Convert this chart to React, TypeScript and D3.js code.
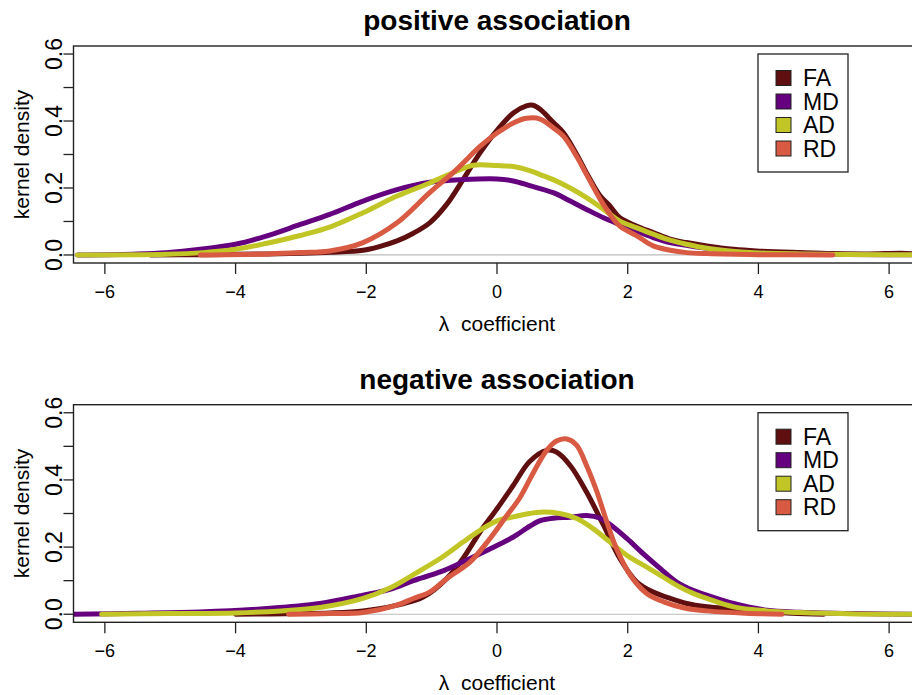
import React from "react";
import * as d3 from "d3";

// kernel density curves: [lambda, density]
const posFA = [[-5.3,0],[-4.5,0.001],[-4,0.002],[-3.5,0.003],[-3,0.005],[-2.55,0.008],[-2.05,0.014],[-1.8,0.025],[-1.53,0.042],[-1.28,0.065],[-1.03,0.096],[-0.77,0.151],[-0.52,0.225],[-0.26,0.305],[0,0.372],[0.25,0.424],[0.45,0.445],[0.55,0.447],[0.66,0.435],[0.86,0.396],[1.02,0.364],[1.22,0.3],[1.37,0.245],[1.58,0.176],[1.73,0.146],[1.88,0.111],[2.14,0.086],[2.39,0.067],[2.65,0.047],[2.9,0.037],[3.21,0.027],[3.62,0.017],[3.97,0.012],[4.64,0.007],[5.15,0.004],[5.7,0.003],[6.19,0.005],[6.5,0.002]];
const posMD = [[-6.42,0],[-5.5,0.003],[-5.06,0.007],[-4.54,0.017],[-4,0.032],[-3.52,0.057],[-3.01,0.091],[-2.56,0.121],[-2.05,0.161],[-1.53,0.195],[-1.03,0.217],[-0.52,0.225],[0,0.227],[0.25,0.221],[0.5,0.207],[0.86,0.186],[1.12,0.161],[1.37,0.136],[1.63,0.111],[1.88,0.091],[2.14,0.071],[2.39,0.052],[2.65,0.037],[2.9,0.029],[3.21,0.02],[3.6,0.011],[4,0.006],[5,0.002],[6,0.001],[6.5,0]];
const posAD = [[-6.42,0],[-5.06,0.002],[-4.5,0.007],[-4,0.017],[-3.52,0.035],[-3.01,0.058],[-2.56,0.083],[-2.05,0.126],[-1.53,0.176],[-1.03,0.215],[-0.62,0.25],[-0.36,0.268],[0,0.267],[0.25,0.264],[0.5,0.252],[0.66,0.24],[0.86,0.225],[1.12,0.2],[1.37,0.171],[1.63,0.136],[1.88,0.101],[2.14,0.081],[2.39,0.062],[2.65,0.044],[2.9,0.032],[3.21,0.02],[3.6,0.011],[4,0.006],[5,0.002],[6,0.001],[6.5,0]];
const posRD = [[-4.54,0],[-3.5,0.003],[-3,0.007],[-2.56,0.012],[-2.05,0.037],[-1.53,0.096],[-1.03,0.186],[-0.62,0.255],[-0.26,0.324],[0,0.364],[0.25,0.394],[0.45,0.408],[0.66,0.406],[0.86,0.38],[1.02,0.354],[1.22,0.294],[1.37,0.24],[1.58,0.166],[1.73,0.121],[1.88,0.086],[2.14,0.057],[2.39,0.027],[2.65,0.014],[2.9,0.007],[3.21,0.004],[4,0.001],[5.14,0]];

const negFA = [[-4,0],[-3,0.002],[-2.56,0.004],[-2.05,0.01],[-1.53,0.027],[-1.13,0.051],[-0.77,0.106],[-0.52,0.166],[-0.26,0.245],[0,0.314],[0.25,0.384],[0.5,0.455],[0.76,0.488],[0.91,0.483],[1.12,0.443],[1.37,0.364],[1.63,0.265],[1.88,0.166],[2.14,0.096],[2.39,0.066],[2.65,0.047],[2.9,0.032],[3.21,0.022],[3.62,0.015],[4,0.008],[4.5,0.003],[5,0]];
const negMD = [[-6.49,0],[-5.5,0.003],[-4.54,0.007],[-3.52,0.017],[-2.71,0.032],[-2.05,0.057],[-1.64,0.074],[-1.28,0.1],[-0.87,0.126],[-0.52,0.156],[-0.26,0.18],[0,0.205],[0.25,0.23],[0.5,0.262],[0.65,0.278],[0.86,0.286],[1.12,0.289],[1.37,0.294],[1.58,0.286],[1.78,0.26],[1.99,0.225],[2.24,0.18],[2.5,0.136],[2.75,0.096],[3.0,0.071],[3.21,0.057],[3.62,0.032],[4.13,0.012],[4.64,0.006],[5.5,0.002],[6.5,0]];
const negAD = [[-6.05,0],[-5,0.002],[-4,0.004],[-3.3,0.01],[-2.71,0.02],[-2.05,0.047],[-1.64,0.078],[-1.28,0.118],[-0.87,0.166],[-0.52,0.215],[-0.26,0.25],[0,0.278],[0.25,0.29],[0.5,0.3],[0.66,0.304],[0.96,0.3],[1.22,0.285],[1.47,0.255],[1.73,0.215],[1.99,0.175],[2.24,0.146],[2.5,0.116],[2.75,0.086],[3.0,0.062],[3.21,0.047],[3.62,0.022],[4.13,0.01],[4.64,0.005],[5.5,0.001],[6.5,0]];
const negRD = [[-3.19,0],[-2.56,0.002],[-2.05,0.005],[-1.53,0.027],[-1.28,0.047],[-1.03,0.066],[-0.77,0.106],[-0.41,0.156],[-0.11,0.225],[0.15,0.294],[0.35,0.347],[0.56,0.423],[0.76,0.488],[0.91,0.516],[1.07,0.522],[1.22,0.503],[1.37,0.443],[1.53,0.364],[1.68,0.275],[1.83,0.195],[2.04,0.116],[2.29,0.062],[2.55,0.037],[2.9,0.017],[3.21,0.01],[3.8,0.003],[4.36,0]];

const measures = ["FA", "MD", "AD", "RD"];
const colors = ["#5f0f10", "#65007e", "#c2c526", "#d85a42"];
const xTicks = [-6, -4, -2, 0, 2, 4, 6];
const yTicks = [0, 0.1, 0.2, 0.3, 0.4, 0.5, 0.6];
const yLabelTicks = [0, 0.2, 0.4, 0.6];

const font = "'Liberation Sans', Arial, Helvetica, sans-serif";

function Panel({ title, series, top, bottom, id }) {
  const x = d3.scaleLinear().domain([-6.48, 6.48]).range([73.5, 920.5]);
  const y = d3.scaleLinear().domain([-0.024, 0.624]).range([bottom, top]);
  const line = d3.line().x(d => x(d[0])).y(d => y(d[1])).curve(d3.curveCatmullRom);
  const fmt = d3.format(".1f");
  const midY = (top + bottom) / 2;
  const lgTop = top + 8;

  return (
    <g>
      <text x={497} y={top - 16} textAnchor="middle" fontSize={28} fontWeight="bold">{title}</text>
      <defs>
        <clipPath id={id}>
          <rect x={x.range()[0]} y={top} width={x.range()[1] - x.range()[0]} height={bottom - top} />
        </clipPath>
      </defs>
      <line x1={x.range()[0]} x2={x.range()[1]} y1={y(0)} y2={y(0)} stroke="#bbb" strokeWidth={1.2} />
      <g clipPath={`url(#${id})`}>
        {series.map((s, i) => (
          <path key={i} d={line(s)} fill="none" stroke={colors[i]} strokeWidth={5} strokeLinejoin="round" strokeLinecap="round" />
        ))}
      </g>
      <rect x={x.range()[0]} y={top} width={x.range()[1] - x.range()[0]} height={bottom - top} fill="none" stroke="#222" strokeWidth={1.4} />
      {xTicks.map(t => (
        <g key={t}>
          <line x1={x(t)} x2={x(t)} y1={bottom} y2={bottom + 11} stroke="#222" strokeWidth={1.3} />
          <text x={x(t)} y={bottom + 35} textAnchor="middle" fontSize={18}>{d3.format("")(t)}</text>
        </g>
      ))}
      {yTicks.map(t => (
        <line key={t} x1={x.range()[0] - 10} x2={x.range()[0]} y1={y(t)} y2={y(t)} stroke="#222" strokeWidth={1.3} />
      ))}
      {yLabelTicks.map(t => (
        <text key={t} transform={`translate(62,${y(t)}) rotate(-90)`} textAnchor="middle" fontSize={23}>{fmt(t)}</text>
      ))}
      <text transform={`translate(29,${midY}) rotate(-90)`} textAnchor="middle" fontSize={21}>kernel density</text>
      <text x={497} y={bottom + 68} textAnchor="middle" fontSize={21} style={{ whiteSpace: "pre" }}>{"λ  coefficient"}</text>
      <rect x={758} y={lgTop} width={90} height={118} fill="white" stroke="#222" strokeWidth={1.3} />
      {measures.map((m, i) => {
        const cy = lgTop + 24 + i * 23.5;
        return (
          <g key={m}>
            <rect x={776} y={cy - 7.5} width={15} height={15} fill={colors[i]} stroke="#222" strokeWidth={1} />
            <text x={803} y={cy} dy="0.36em" fontSize={23}>{m}</text>
          </g>
        );
      })}
    </g>
  );
}

export default function App() {
  return (
    <svg width={912} height={695} style={{ position: "absolute", left: 0, top: 0, background: "white" }} fontFamily={font}>
      <rect width={912} height={695} fill="white" />
      <Panel id="clipPos" title="positive association" series={[posFA, posMD, posAD, posRD]} top={46} bottom={263} />
      <Panel id="clipNeg" title="negative association" series={[negFA, negMD, negAD, negRD]} top={404.7} bottom={622.3} />
    </svg>
  );
}
